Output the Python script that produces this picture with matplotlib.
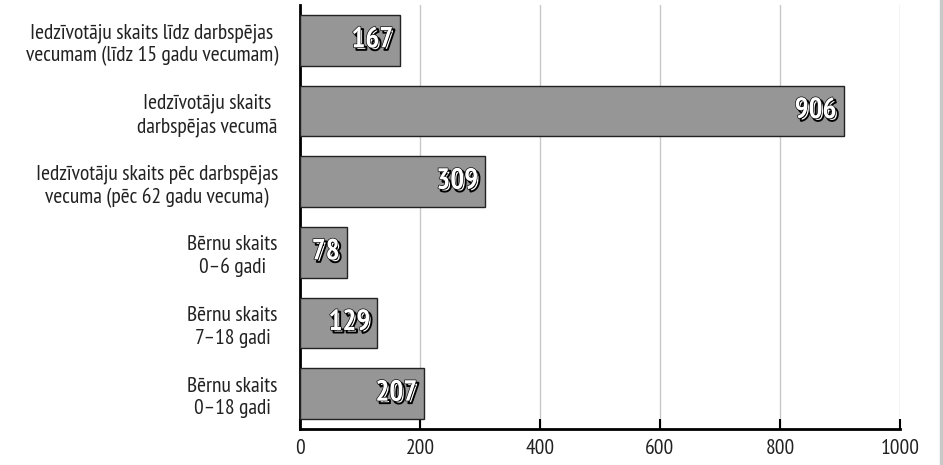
import matplotlib.pyplot as plt
import matplotlib.patheffects as pe
from matplotlib.patches import Rectangle

plt.rcParams['font.family'] = ['PT Sans Narrow', 'DejaVu Sans']

categories = [
    "Iedzīvotāju skaits līdz darbspējas\nvecumam (līdz 15 gadu vecumam)",
    "Iedzīvotāju skaits\ndarbspējas vecumā",
    "Iedzīvotāju skaits pēc darbspējas\nvecuma (pēc 62 gadu vecuma)",
    "Bērnu skaits\n0–6 gadi",
    "Bērnu skaits\n7–18 gadi",
    "Bērnu skaits\n0–18 gadi",
]
values = [167, 906, 309, 78, 129, 207]
xticks = [0, 200, 400, 600, 800, 1000]

fig = plt.figure(figsize=(9.43, 4.65), dpi=100)
ax = fig.add_axes([300 / 943, 36 / 465, 600 / 943, 424 / 465])

ypos = list(range(len(categories)))
ax.barh(ypos, values, height=0.72, color='#969696', edgecolor='#222222', linewidth=1.0, zorder=3)

shadow = [pe.Stroke(offset=(1.8, -1.8), linewidth=1.4, foreground='black'),
          pe.Stroke(linewidth=0.9, foreground='black'),
          pe.Normal()]
for y, v in zip(ypos, values):
    ax.text(v - 12, y, str(v), ha='right', va='center', color='white',
            fontsize=21, fontweight='bold', zorder=4, path_effects=shadow)

ax.set_ylim(len(categories) - 0.5, -0.5)
ax.set_xlim(0, 1000)
ax.set_yticks(ypos)
ax.set_yticklabels(categories, fontsize=15.5, color='#222222', multialignment='center',
                   linespacing=1.25)
ax.set_xticks(xticks)
ax.set_xticklabels([str(t) for t in xticks], fontsize=15.5, color='#222222')

ax.tick_params(axis='y', length=0, pad=16)
ax.tick_params(axis='x', direction='in', length=7, width=1.5, pad=7)
ax.grid(axis='x', color='#c8c8c8', linewidth=1, zorder=0)
for s in ['top', 'right']:
    ax.spines[s].set_visible(False)
ax.spines['left'].set_linewidth(2)
ax.spines['bottom'].set_linewidth(2)

fig.patches.append(Rectangle((940 / 943, 0), 3 / 943, 1, transform=fig.transFigure,
                             color='#c8c8c8', zorder=0))

fig.savefig('out.png', dpi=100)
